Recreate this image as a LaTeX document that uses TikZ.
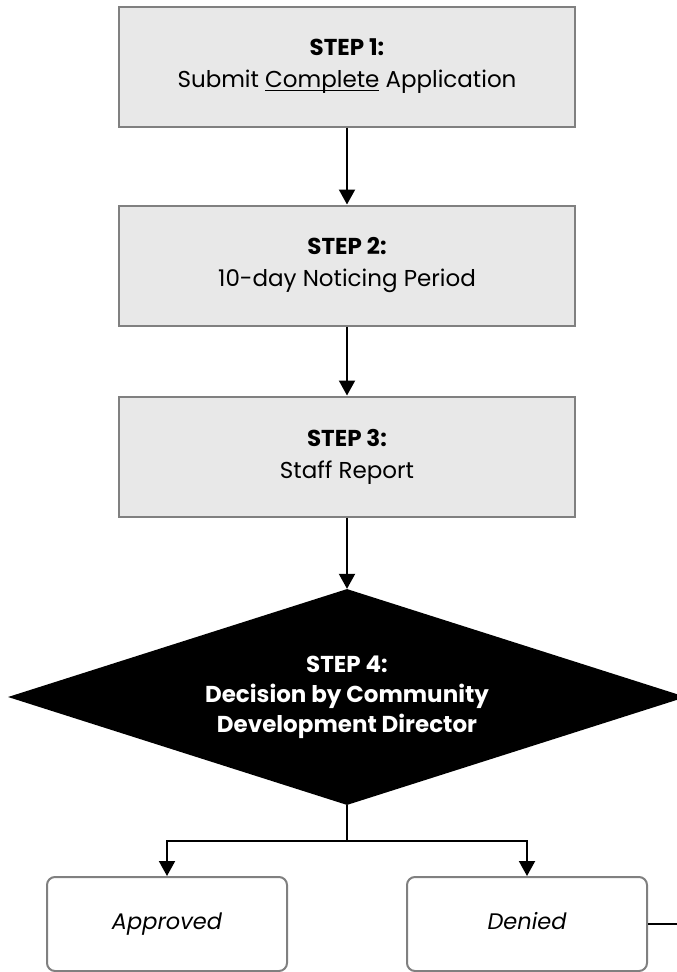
\documentclass[tikz,border=0pt]{standalone}
\usepackage{fontspec}
\setmainfont{Poppins}
\usetikzlibrary{arrows.meta,shapes.geometric}
\newcommand{\underword}[1]{\setbox0\hbox{#1}\rlap{\rule[-3.5pt]{\wd0}{1.6pt}}\box0}

\begin{document}
\begin{tikzpicture}[x=1pt,y=-1pt,
    stepbox/.style={draw=gray,line width=2pt,fill=black!9,minimum width=456pt,minimum height=120pt,align=center,font=\fontsize{23}{32}\selectfont},
    decision/.style={diamond,fill=black,text=white,aspect=3.15,minimum width=678pt,minimum height=216pt,inner sep=0pt,align=center,font=\fontsize{23}{30}\selectfont\bfseries},
    outcome/.style={draw=gray,line width=2pt,rounded corners=8pt,minimum width=240pt,minimum height=94pt,text height=16pt,text depth=5pt,font=\fontsize{22.5}{26}\selectfont\itshape},
    flow/.style={line width=2pt,-{Triangle[width=16pt,length=15pt]}}]
        \useasboundingbox (0,0) rectangle (677,972);
        \node[stepbox] (step1) at (347,66.5) {\textbf{STEP 1:}\\Submit \underword{Complete}\ Application};
        \node[stepbox] (step2) at (347,265.5) {\textbf{STEP 2:}\\10-day Noticing Period};
        \node[stepbox] (step3) at (347,456.5) {\textbf{STEP 3:}\\Staff Report};
        \node[decision] (step4) at (347,697) {STEP 4:\\Decision by Community\\Development Director};
        \node[outcome] (approved) at (167,924) {Approved};
        \node[outcome] (denied) at (527,924) {Denied};
        \coordinate (split) at (347,841);
        \coordinate (exit) at (677,924);
        \draw[flow] (step1) -- (step2);
        \draw[flow] (step2) -- (step3);
        \draw[flow] (step3) -- (step4);
        \draw[line width=2pt] (step4.south) -- (split);
        \draw[flow] (split) -| (approved.north);
        \draw[flow] (split) -| (denied.north);
        \draw[line width=2pt] (denied.east) -- (exit);
    \end{tikzpicture}
\end{document}
